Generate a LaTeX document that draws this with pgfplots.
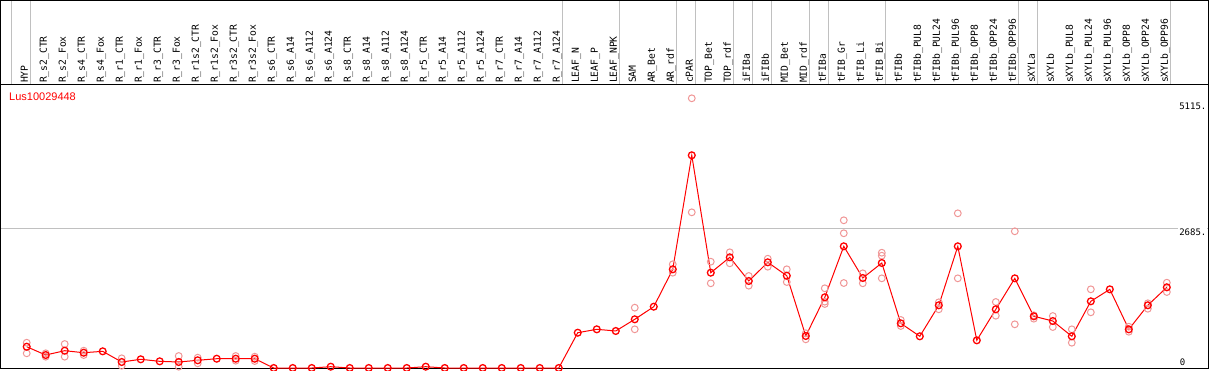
\documentclass[border=0pt]{standalone}
\usepackage{pgfplots}
\pgfplotsset{compat=1.18}
\usepackage{pgfplotstable}
\usepackage{fontspec}
\setmainfont{DejaVu Sans}
\newfontfamily\monof{DejaVu Sans Mono}
\newfontfamily\labf{Liberation Sans}
\definecolor{pinkc}{RGB}{240,150,150}
\definecolor{gridc}{RGB}{192,192,192}

\pgfplotstableread{
x y
0 408
1 249
2 332
3 293
4 320
5 115
6 167
7 128
8 115
9 148
10 178
11 178
12 178
13 0
14 0
15 0
16 25
17 0
18 0
19 0
20 0
21 25
22 0
23 0
24 0
25 0
26 0
27 0
28 0
29 677
30 742
31 710
32 934
33 1176
34 1893
35 4080
36 1828
37 2123
38 1669
39 2027
40 1770
41 614
42 1356
43 2334
44 1726
45 2014
46 857
47 608
48 1203
49 2334
50 531
51 1126
52 1720
53 992
54 901
55 608
56 1279
57 1509
58 742
59 1203
60 1548
}\meantable

\pgfplotstableread{
x y
0 485
0 282
1 282
1 217
2 460
2 217
3 332
3 249
5 186
5 44
8 230
8 25
9 198
9 90
11 230
11 140
12 217
12 134
32 1157
32 742
34 1989
34 1828
35 5173
35 2986
36 2039
36 1625
37 2219
37 2008
38 1765
38 1579
39 2096
39 1943
40 1893
40 1649
41 666
41 550
42 1529
42 1272
42 1228
43 2833
43 2584
43 1630
44 1816
44 1625
45 2211
45 2154
45 1720
46 921
46 806
48 1260
48 1126
49 2967
49 1720
51 1266
51 1003
52 2622
52 838
53 1011
53 946
54 997
54 786
55 742
55 485
56 1509
56 1068
58 792
58 696
59 1241
59 1137
60 1636
60 1458
}\reptable

\begin{document}
\begin{tikzpicture}
\path[use as bounding box] (0,0) rectangle (1209pt,370pt);
% label strip
\begin{axis}[
  at={(0.5pt,285pt)}, anchor=south west, scale only axis,
  width=1207.5pt, height=84.5pt,
  xmin=-1.379, xmax=62.17, ymin=0, ymax=1,
  ytick=\empty,
  xtick={0.06,1.06,...,60.06},
  xticklabels={HYP,R\_s2\_CTR,R\_s2\_Fox,R\_s4\_CTR,R\_s4\_Fox,R\_r1\_CTR,R\_r1\_Fox,R\_r3\_CTR,R\_r3\_Fox,R\_r1s2\_CTR,R\_r1s2\_Fox,R\_r3s2\_CTR,R\_r3s2\_Fox,R\_s6\_CTR,R\_s6\_A14,R\_s6\_A112,R\_s6\_A124,R\_s8\_CTR,R\_s8\_A14,R\_s8\_A112,R\_s8\_A124,R\_r5\_CTR,R\_r5\_A14,R\_r5\_A112,R\_r5\_A124,R\_r7\_CTR,R\_r7\_A14,R\_r7\_A112,R\_r7\_A124,LEAF\_N,LEAF\_P,LEAF\_NPK,SAM,AR\_Bet,AR\_rdf,cPAR,TOP\_Bet,TOP\_rdf,iFIBa,iFIBb,MID\_Bet,MID\_rdf,tFIBa,tFIB\_Gr,tFIB\_Li,tFIB\_Bi,tFIBb,tFIBb\_PUL8,tFIBb\_PUL24,tFIBb\_PUL96,tFIBb\_OPP8,tFIBb\_OPP24,tFIBb\_OPP96,sXYLa,sXYLb,sXYLb\_PUL8,sXYLb\_PUL24,sXYLb\_PUL96,sXYLb\_OPP8,sXYLb\_OPP24,sXYLb\_OPP96},
  xticklabel style={rotate=90, anchor=base west, inner xsep=2pt, inner ysep=0pt, outer sep=0pt,
    font=\monof\fontsize{9.7}{10}\selectfont},
  major tick length=0pt, minor tick length=0pt,
  minor xtick={-0.79,0.21,28.21,31.21,34.21,35.21,37.21,38.21,39.21,41.21,42.21,45.21,52.21,53.21,60.21},
  xminorgrids,
  minor grid style={gridc, line width=1pt},
  axis line style={black, line width=1pt},
]
\end{axis}
% data panel
\begin{axis}[
  at={(0.5pt,2pt)}, anchor=south west, scale only axis,
  width=1207.5pt, height=283pt,
  xmin=-1.379, xmax=62.17, ymin=0, ymax=5428,
  xtick=\empty,
  minor xtick={-0.79,0.21,28.21,31.21,34.21,35.21,37.21,38.21,39.21,41.21,42.21,45.21,52.21,53.21,60.21},
  xminorgrids,
  minor grid style={gridc, line width=1pt},
  ytick={2685}, yticklabels={2685.},
  ymajorgrids,
  major grid style={gridc, line width=1pt},
  major tick length=0pt, minor tick length=0pt,
  yticklabel pos=right,
  yticklabel style={anchor=north west, xshift=-30pt, inner xsep=1pt, inner ysep=1pt, fill=white,
    font=\monof\fontsize{9}{9}\selectfont},
  extra y ticks={5115}, extra y tick labels={5115.},
  extra y tick style={grid=none},
  scaled y ticks=false,
  axis line style={black, line width=1pt},
]
\addplot[only marks, color=pinkc, mark=o, mark size=3.4pt, mark options={line width=1pt}] table[x=x,y=y] {\reptable};
\addplot[color=red, line width=1pt, mark=o, mark size=3.4pt, mark options={line width=1.3pt}] table[x=x,y=y] {\meantable};
\node[anchor=north west, inner sep=0pt, text=red, font=\labf\fontsize{11}{11}\selectfont] at (rel axis cs:0,1) [xshift=8.5pt, yshift=-7.5pt] {Lus10029448};
\node[anchor=south west, inner sep=0pt, font=\monof\fontsize{9}{9}\selectfont] at (rel axis cs:0.9764,0) [yshift=2pt] {0};
\end{axis}
\end{tikzpicture}
\end{document}
